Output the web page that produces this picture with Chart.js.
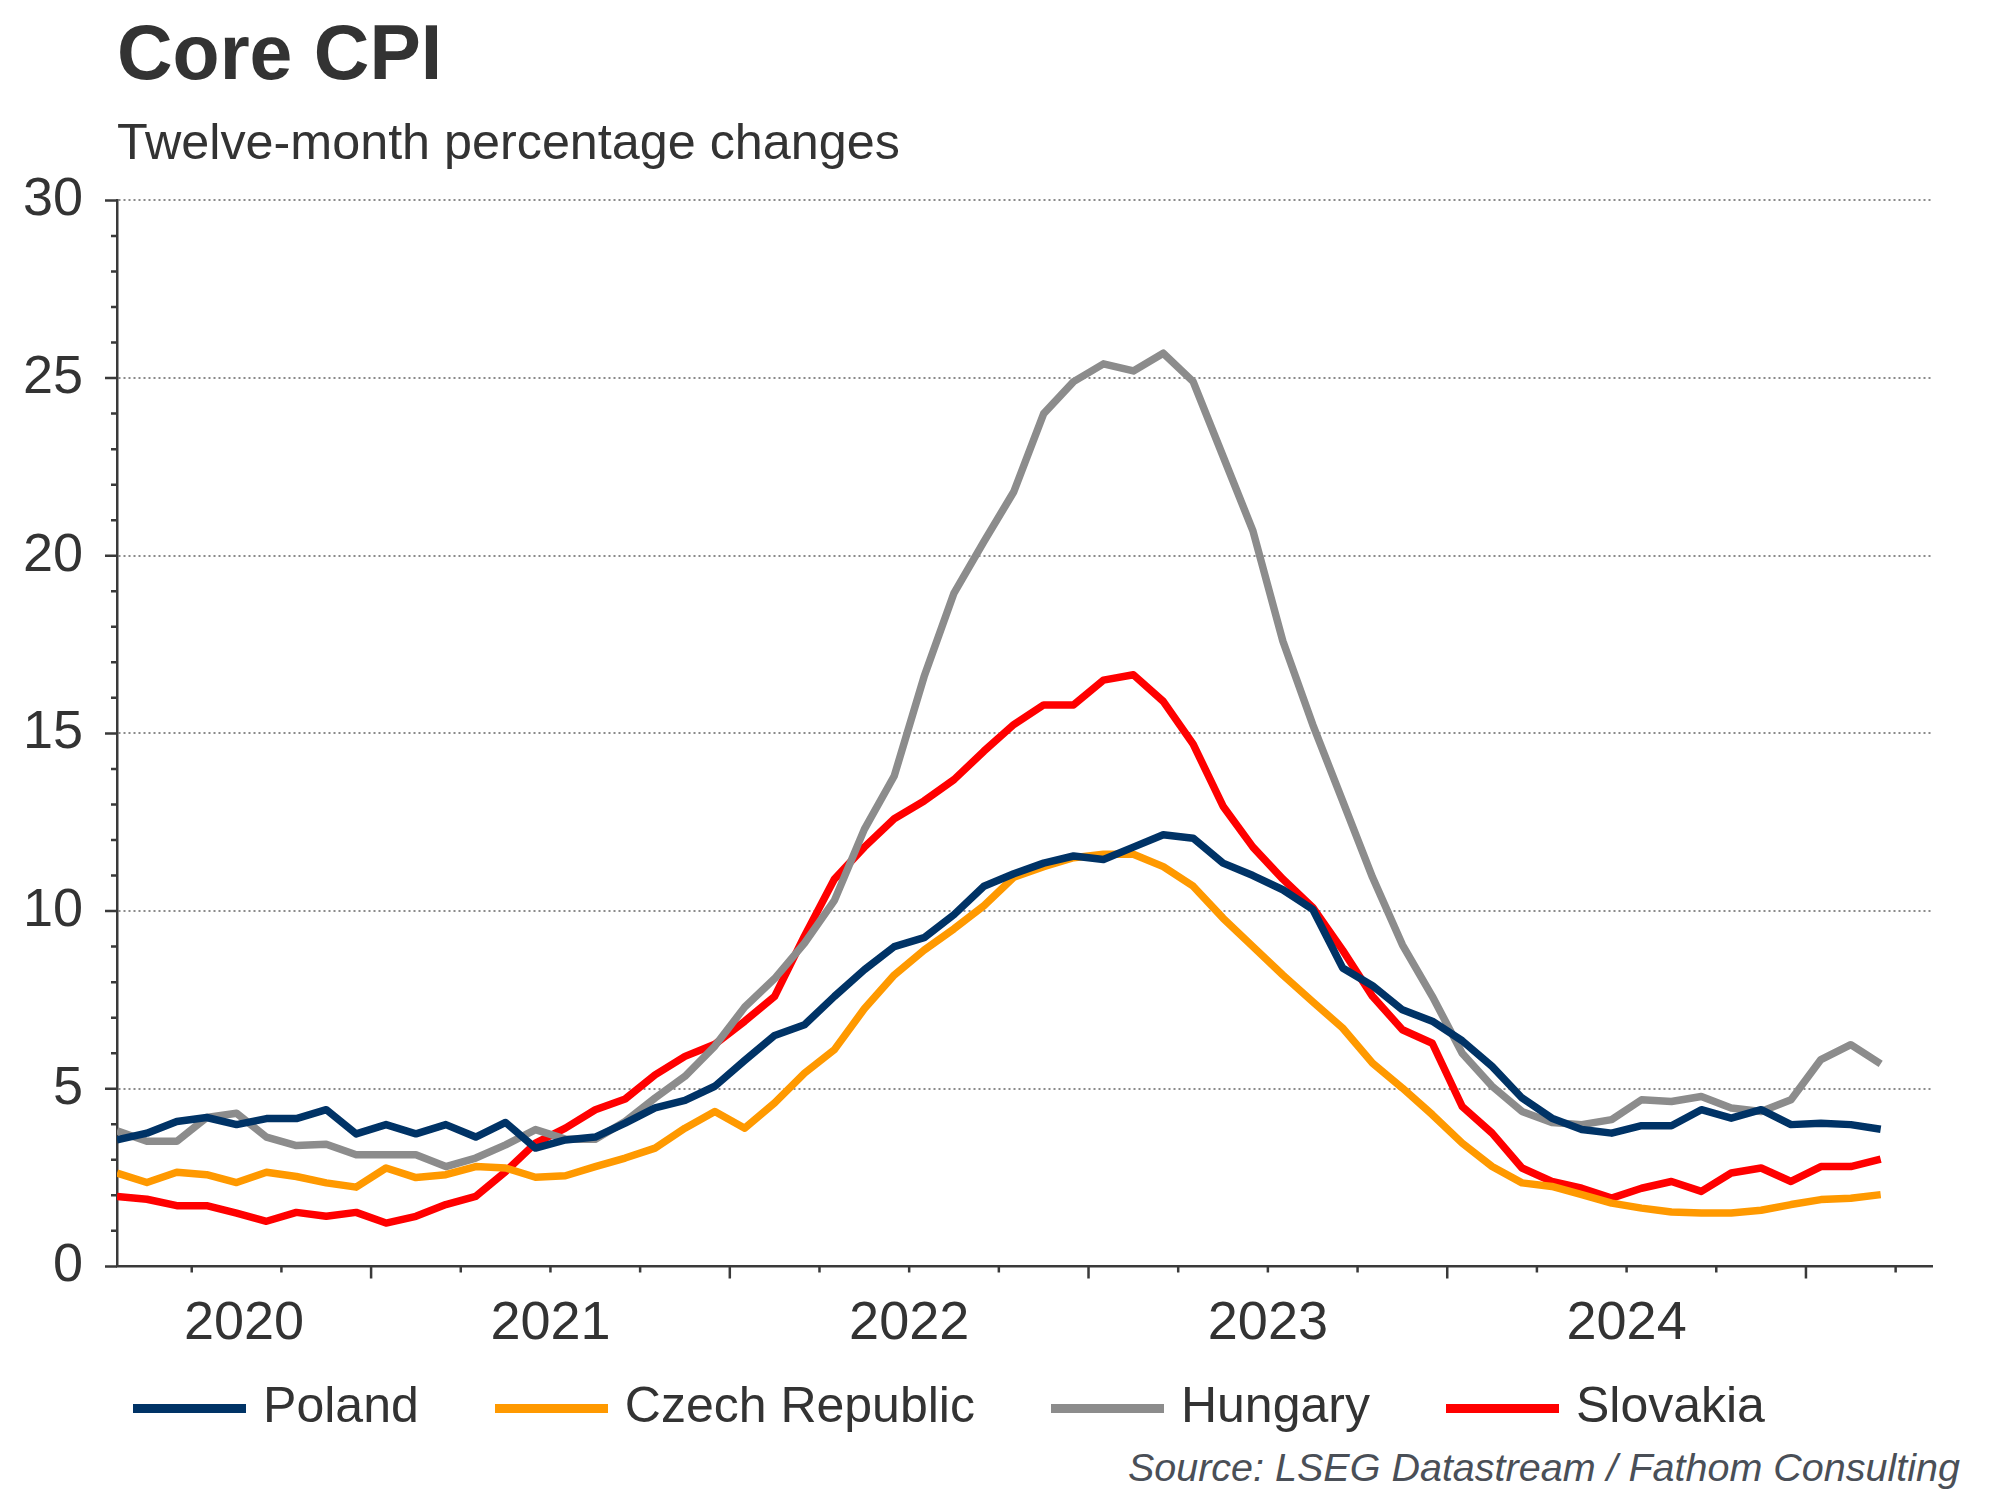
<!DOCTYPE html>
<html>
<head>
<meta charset="utf-8">
<title>Core CPI</title>
<script src="https://cdn.jsdelivr.net/npm/chart.js@4.4.1/dist/chart.umd.min.js"></script>
<style>
  html, body { margin: 0; padding: 0; background: #fff; }
  body {
    width: 2000px; height: 1500px; position: relative; overflow: hidden;
    font-family: "Liberation Sans", Arial, sans-serif; color: #333;
  }
  #title { position: absolute; left: 117px; top: 14px; font-size: 77px; font-weight: bold; line-height: 1; white-space: nowrap; }
  #subtitle { position: absolute; left: 117px; top: 117px; font-size: 50.3px; line-height: 1; white-space: nowrap; }
  #source { position: absolute; right: 40px; top: 1448px; font-size: 39.5px; font-style: italic; line-height: 1; color: #4a4f57; white-space: nowrap; }
  #chartBox { position: absolute; left: -27px; top: 134.3px; width: 1960px; height: 1309px; }
</style>
</head>
<body>
<div id="title">Core CPI</div>
<div id="subtitle">Twelve-month percentage changes</div>
<div id="chartBox"><canvas id="cpiChart"></canvas></div>
<div id="source">Source: LSEG Datastream / Fathom Consulting</div>

<script>
// ---- data: monthly, Apr 2020 .. Mar 2025, % y/y ----
const START_YEAR = 2020;
const START_MONTH = 3; // April (0-based)
const YEAR_LABELS = ['2020', '2021', '2022', '2023', '2024'];
const SERIES_NAMES = ['Poland', 'Czech Republic', 'Hungary', 'Slovakia'];

const poland = [
  3.56, 3.75, 4.08, 4.19, 3.99, 4.16, 4.16, 4.41, 3.73, 3.99, 3.73, 3.99,
  3.64, 4.05, 3.33, 3.56, 3.64, 4.03, 4.46, 4.67, 5.07, 5.80, 6.50, 6.80,
  7.60, 8.35, 9.00, 9.25, 9.90, 10.70, 11.05, 11.35, 11.55, 11.45, 11.80, 12.15,
  12.05, 11.35, 11.00, 10.60, 10.05, 8.40, 7.90, 7.22, 6.90, 6.35, 5.63, 4.74,
  4.17, 3.85, 3.75, 3.96, 3.96, 4.41, 4.17, 4.41, 3.99, 4.03, 3.99, 3.86
];
const czech = [
  2.63, 2.36, 2.65, 2.58, 2.36, 2.65, 2.53, 2.35, 2.23, 2.77, 2.50, 2.58,
  2.81, 2.77, 2.51, 2.55, 2.81, 3.05, 3.33, 3.89, 4.36, 3.89, 4.60, 5.44,
  6.10, 7.25, 8.20, 8.90, 9.50, 10.15, 10.95, 11.25, 11.50, 11.60, 11.60, 11.25,
  10.70, 9.80, 9.00, 8.20, 7.45, 6.71, 5.72, 5.02, 4.27, 3.47, 2.81, 2.35,
  2.25, 2.02, 1.78, 1.64, 1.53, 1.50, 1.50, 1.58, 1.74, 1.88, 1.92, 2.02
];
const hungary = [
  3.82, 3.52, 3.52, 4.19, 4.31, 3.64, 3.40, 3.44, 3.14, 3.14, 3.14, 2.81,
  3.05, 3.42, 3.85, 3.58, 3.58, 4.08, 4.74, 5.35, 6.20, 7.30, 8.10, 9.10,
  10.30, 12.30, 13.80, 16.60, 18.95, 20.40, 21.80, 24.00, 24.90, 25.40, 25.20, 25.70,
  24.90, 22.80, 20.70, 17.60, 15.25, 13.10, 10.95, 9.05, 7.60, 6.00, 5.07, 4.36,
  4.05, 3.99, 4.13, 4.69, 4.64, 4.78, 4.46, 4.36, 4.69, 5.82, 6.24, 5.70
];
const slovakia = [
  1.97, 1.89, 1.71, 1.71, 1.50, 1.27, 1.52, 1.41, 1.52, 1.22, 1.41, 1.74,
  1.97, 2.67, 3.47, 3.89, 4.41, 4.71, 5.39, 5.91, 6.25, 6.90, 7.60, 9.30,
  10.90, 11.80, 12.60, 13.10, 13.70, 14.50, 15.25, 15.80, 15.80, 16.50, 16.65, 15.90,
  14.70, 12.95, 11.80, 10.90, 10.10, 8.90, 7.60, 6.66, 6.28, 4.50, 3.75, 2.77,
  2.39, 2.20, 1.92, 2.20, 2.39, 2.11, 2.63, 2.77, 2.39, 2.81, 2.81, 3.02
];

const COLORS = ['#003366', '#ff9900', '#8c8c8c', '#ff0000'];
const AXIS_COLOR = '#3a3a3a';
const TEXT_COLOR = '#333333';
const FONT = '"Liberation Sans", Arial, sans-serif';

// x axis runs in month units from the first observation (mid-month)
const X_MIN = 0;
const X_MAX = 60.75;

function monthIndexOfJan(year) {
  // first of January of `year`, expressed on the month-index axis
  return (year - START_YEAR) * 12 - START_MONTH - 0.5;
}

function yearLabelCenters() {
  return YEAR_LABELS.map(y => {
    const a = Math.max(X_MIN, monthIndexOfJan(+y));
    const b = Math.min(X_MAX, monthIndexOfJan(+y + 1));
    return (a + b) / 2;
  });
}

function toPoints(arr) {
  return arr.map((v, i) => ({ x: i, y: v }));
}

// legend swatch: a flat bar, a little wider than the layout box
function swatch(color) {
  const c = document.createElement('canvas');
  c.width = 113;
  c.height = 9;
  const g = c.getContext('2d');
  g.fillStyle = color;
  g.fillRect(0, 0, c.width, c.height);
  return c;
}

// quarterly / yearly tick marks on x, unit / five-unit ticks on y
const axisTicks = {
  id: 'axisTicks',
  afterDraw(chart) {
    const { ctx, chartArea } = chart;
    const x = chart.scales.x, y = chart.scales.y;
    ctx.save();
    ctx.strokeStyle = AXIS_COLOR;
    ctx.lineWidth = 2.5;
    ctx.beginPath();
    for (let v = y.min; v <= y.max; v++) {
      const py = y.getPixelForValue(v);
      const len = v % 5 === 0 ? 12 : 6;
      ctx.moveTo(chartArea.left - len, py);
      ctx.lineTo(chartArea.left, py);
    }
    for (let k = 3; k - 0.5 <= X_MAX; k += 3) {
      const px = x.getPixelForValue(k - 0.5);
      const major = (START_MONTH + k) % 12 === 0;
      ctx.moveTo(px, chartArea.bottom);
      ctx.lineTo(px, chartArea.bottom + (major ? 12 : 6));
    }
    ctx.stroke();
    ctx.restore();
  }
};

const seriesData = [poland, czech, hungary, slovakia];

new Chart(document.getElementById('cpiChart'), {
  type: 'line',
  data: {
    datasets: seriesData.map((arr, i) => ({
      label: SERIES_NAMES[i],
      data: toPoints(arr),
      borderColor: COLORS[i],
      backgroundColor: COLORS[i],
      borderWidth: 7.5,
      borderJoinStyle: 'round',
      pointRadius: 0,
      tension: 0,
      fill: false
    }))
  },
  options: {
    responsive: true,
    maintainAspectRatio: false,
    animation: false,
    events: [],
    layout: { padding: 0 },
    scales: {
      x: {
        type: 'linear',
        min: X_MIN,
        max: X_MAX,
        afterBuildTicks: (scale) => {
          scale.ticks = yearLabelCenters().map(v => ({ value: v }));
        },
        afterFit: (scale) => { scale.height = 32.6; },
        grid: { display: false, drawTicks: false },
        border: { display: true, color: AXIS_COLOR, width: 2.5 },
        ticks: {
          autoSkip: false,
          maxRotation: 0,
          // mirrored (offset flips sign) so labels are not clipped to the short axis box
          mirror: true,
          padding: -90.6,
          color: TEXT_COLOR,
          font: { family: FONT, size: 54 },
          callback: (val, idx) => YEAR_LABELS[idx]
        }
      },
      y: {
        min: 0,
        max: 30,
        afterFit: (scale) => { scale.width = 144; },
        grid: {
          drawTicks: false,
          lineWidth: 2,
          color: (c) => (c.tick && c.tick.value === 0 ? 'rgba(0,0,0,0)' : '#8a8a8a')
        },
        border: { display: true, color: AXIS_COLOR, width: 2.5, dash: [2, 3] },
        ticks: {
          stepSize: 5,
          padding: 34,
          color: TEXT_COLOR,
          font: { family: FONT, size: 54 }
        }
      }
    },
    plugins: {
      legend: {
        position: 'bottom',
        labels: {
          usePointStyle: true,
          pointStyleWidth: 97,
          padding: 84,
          color: TEXT_COLOR,
          font: { family: FONT, size: 50 },
          generateLabels: (chart) => {
            const items = Chart.defaults.plugins.legend.labels.generateLabels(chart);
            items.forEach((it, i) => { it.pointStyle = swatch(COLORS[i]); });
            return items;
          }
        }
      },
      tooltip: { enabled: false },
      title: { display: false }
    }
  },
  plugins: [axisTicks]
});
</script>
</body>
</html>
